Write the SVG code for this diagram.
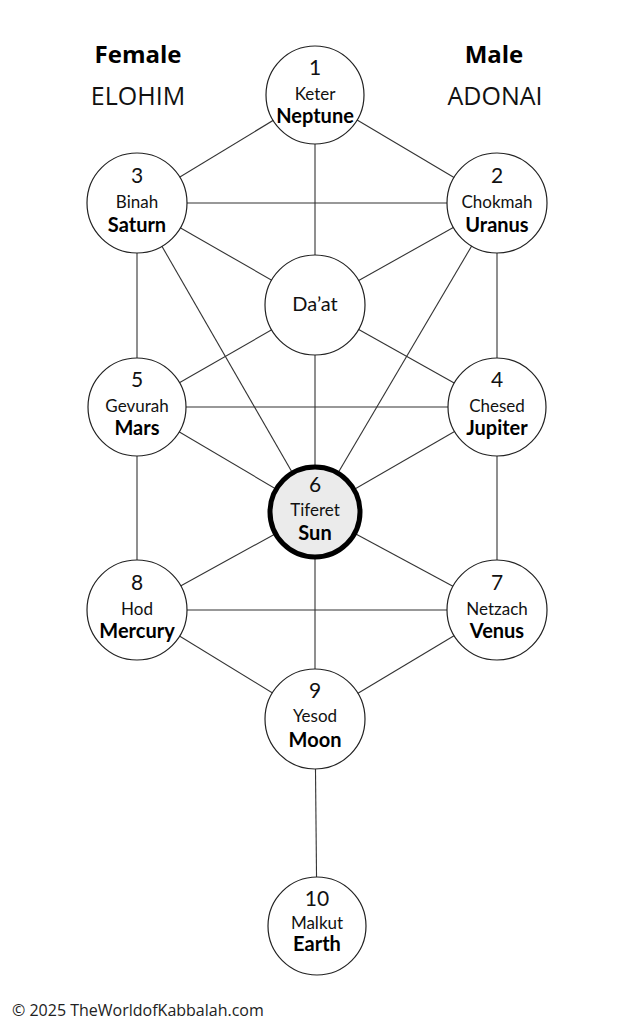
<svg xmlns="http://www.w3.org/2000/svg" width="633" height="1024" viewBox="0 0 633 1024">
<style>
.bg{fill:#fff}
.c{fill:#fff;stroke:#222;stroke-width:1.2}
.ct{fill:#ebebeb;stroke:#000;stroke-width:5}
.ln line{stroke:#333;stroke-width:1.1}
.n{font-family:Lato,"Liberation Sans",sans-serif;font-size:21px;fill:#111;text-anchor:middle}
.s{font-family:Lato,"Liberation Sans",sans-serif;font-size:17px;fill:#111;text-anchor:middle}
.p{font-family:Lato,"Liberation Sans",sans-serif;font-size:20px;font-weight:bold;fill:#000;text-anchor:middle}
.h{font-family:"Open Sans","Liberation Sans",sans-serif;font-size:24px;font-weight:bold;fill:#000;text-anchor:middle}
.g{font-family:"Open Sans","Liberation Sans",sans-serif;font-size:25px;fill:#111;text-anchor:middle}
.f{font-family:"Open Sans","Liberation Sans",sans-serif;font-size:16px;fill:#222}
</style>
<rect class="bg" x="0" y="0" width="633" height="1024"/>
<g id="headings">
<text class="h" x="138" y="63">Female</text>
<text class="g" x="138" y="105">ELOHIM</text>
<text class="h" x="494" y="63">Male</text>
<text class="g" x="495" y="105">ADONAI</text>
</g>
<g id="connectors" class="ln">
<line x1="315" y1="95" x2="137" y2="203"/>
<line x1="315" y1="95" x2="497" y2="203"/>
<line x1="315" y1="95" x2="315" y2="305"/>
<line x1="137" y1="203" x2="497" y2="203"/>
<line x1="137" y1="203" x2="315" y2="305"/>
<line x1="497" y1="203" x2="315" y2="305"/>
<line x1="137" y1="203" x2="137" y2="407"/>
<line x1="497" y1="203" x2="497" y2="407"/>
<line x1="137" y1="203" x2="315" y2="512"/>
<line x1="497" y1="203" x2="315" y2="512"/>
<line x1="315" y1="305" x2="137" y2="407"/>
<line x1="315" y1="305" x2="497" y2="407"/>
<line x1="315" y1="305" x2="315" y2="512"/>
<line x1="137" y1="407" x2="497" y2="407"/>
<line x1="137" y1="407" x2="315" y2="512"/>
<line x1="497" y1="407" x2="315" y2="512"/>
<line x1="137" y1="407" x2="137" y2="610"/>
<line x1="497" y1="407" x2="497" y2="610"/>
<line x1="315" y1="512" x2="137" y2="610"/>
<line x1="315" y1="512" x2="497" y2="610"/>
<line x1="315" y1="512" x2="315" y2="719"/>
<line x1="137" y1="610" x2="497" y2="610"/>
<line x1="137" y1="610" x2="315" y2="719"/>
<line x1="497" y1="610" x2="315" y2="719"/>
<line x1="315" y1="719" x2="317" y2="926"/>
</g>
<g id="keter"><circle class="c" cx="315" cy="95" r="49"/><text class="n" x="315" y="75">1</text><text class="s" x="315" y="100">Keter</text><text class="p" x="315" y="123">Neptune</text></g>
<g id="binah"><circle class="c" cx="137" cy="203" r="50"/><text class="n" x="137" y="183">3</text><text class="s" x="137" y="208">Binah</text><text class="p" x="137" y="232">Saturn</text></g>
<g id="chokmah"><circle class="c" cx="497" cy="203" r="50"/><text class="n" x="497" y="183">2</text><text class="s" x="497" y="208">Chokmah</text><text class="p" x="497" y="232">Uranus</text></g>
<g id="daat"><circle class="c" cx="315" cy="305" r="50"/><text class="n" x="315" y="311" style="font-size:20px">Da’at</text></g>
<g id="gevurah"><circle class="c" cx="137" cy="407" r="49"/><text class="n" x="137" y="387">5</text><text class="s" x="137" y="412">Gevurah</text><text class="p" x="137" y="435">Mars</text></g>
<g id="chesed"><circle class="c" cx="497" cy="407" r="49"/><text class="n" x="497" y="387">4</text><text class="s" x="497" y="412">Chesed</text><text class="p" x="497" y="435">Jupiter</text></g>
<g id="tiferet"><circle class="ct" cx="315" cy="512" r="45"/><text class="n" x="315" y="492">6</text><text class="s" x="315" y="516">Tiferet</text><text class="p" x="315" y="540">Sun</text></g>
<g id="hod"><circle class="c" cx="137" cy="610" r="50"/><text class="n" x="137" y="590">8</text><text class="s" x="137" y="615">Hod</text><text class="p" x="137" y="638">Mercury</text></g>
<g id="netzach"><circle class="c" cx="497" cy="610" r="50"/><text class="n" x="497" y="590">7</text><text class="s" x="497" y="615">Netzach</text><text class="p" x="497" y="638">Venus</text></g>
<g id="yesod"><circle class="c" cx="315" cy="719" r="50"/><text class="n" x="315" y="698">9</text><text class="s" x="315" y="722">Yesod</text><text class="p" x="315" y="747">Moon</text></g>
<g id="malkut"><circle class="c" cx="317" cy="926" r="49"/><text class="n" x="317" y="906">10</text><text class="s" x="317" y="929">Malkut</text><text class="p" x="317" y="951">Earth</text></g>
<text class="f" x="12" y="1016">© 2025 TheWorldofKabbalah.com</text>
</svg>
